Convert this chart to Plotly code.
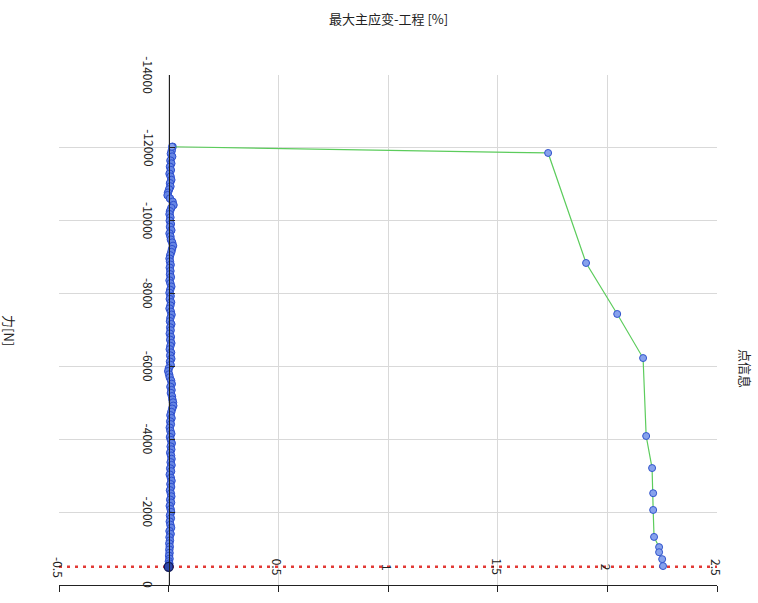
import plotly.graph_objects as go

# ---------------- data ----------------
X_TICKS = [-0.5, 0, 0.5, 1, 1.5, 2, 2.5]
X_TICK_LABELS = ["-0.5", "", "0.5", "1", "1.5", "2", "2.5"]
Y_TICKS = [-14000, -12000, -10000, -8000, -6000, -4000, -2000, 0]
Y_TICK_LABELS = ["-14000", "-12000", "-10000", "-8000", "-6000", "-4000", "-2000", "0"]

THRESHOLD_FORCE = -500

column_force = [
    -12030, -11930, -11840, -11760, -11650, -11570, -11480, -11390, -11290, -11210,
    -11120, -11030, -10940, -10860, -10770, -10700, -10610, -10520, -10430, -10350,
    -10260, -10180, -10090, -10000, -9910, -9830, -9740, -9650, -9570, -9480,
    -9400, -9310, -9220, -9140, -9050, -8960, -8880, -8790, -8710, -8620,
    -8530, -8450, -8360, -8280, -8190, -8100, -8020, -7930, -7850, -7760,
    -7670, -7590, -7500, -7420, -7330, -7240, -7160, -7070, -6990, -6900,
    -6810, -6730, -6640, -6560, -6470, -6380, -6300, -6210, -6130, -6040,
    -5950, -5870, -5780, -5700, -5610, -5520, -5440, -5350, -5270, -5180,
    -5090, -5010, -4920, -4840, -4750, -4660, -4580, -4490, -4410, -4320,
    -4230, -4150, -4060, -3980, -3890, -3800, -3720, -3630, -3550, -3460,
    -3370, -3290, -3200, -3120, -3030, -2940, -2860, -2770, -2690, -2600,
    -2510, -2430, -2340, -2260, -2170, -2080, -2000, -1910, -1830, -1740,
    -1650, -1570, -1480, -1400, -1310, -1220, -1140, -1050, -970, -880,
    -800, -720, -650, -590, -540,
]
column_strain = [
    0.018, 0.014, 0.010, 0.016, 0.008, 0.012, 0.006, 0.010, 0.004, 0.009,
    0.012, 0.006, 0.008, 0.002, -0.003, -0.005, 0.006, 0.018, 0.022, 0.012,
    0.006, 0.004, 0.008, 0.005, 0.010, 0.006, 0.012, 0.004, 0.008, 0.010,
    0.016, 0.020, 0.015, 0.012, 0.007, 0.004, 0.006, 0.009, 0.005, 0.008,
    0.006, 0.010, 0.004, 0.008, 0.012, 0.007, 0.004, 0.009, 0.005, 0.011,
    0.008, 0.004, 0.010, 0.013, 0.008, 0.006, 0.012, 0.007, 0.009, 0.005,
    0.010, 0.007, 0.012, 0.008, 0.005, 0.011, 0.007, 0.012, 0.006, 0.009,
    0.001, -0.002, 0.002, 0.005, 0.011, 0.014, 0.008, 0.013, 0.010, 0.015,
    0.017, 0.020, 0.021, 0.016, 0.012, 0.008, 0.013, 0.007, 0.010, 0.005,
    0.008, 0.012, 0.006, 0.010, 0.014, 0.009, 0.012, 0.007, 0.011, 0.013,
    0.009, 0.013, 0.007, 0.011, 0.005, 0.010, 0.013, 0.008, 0.011, 0.006,
    0.010, 0.012, 0.007, 0.011, 0.005, 0.009, 0.011, 0.006, 0.010, 0.005,
    0.008, 0.011, 0.004, 0.009, 0.004, 0.006, 0.003, 0.005, 0.003, 0.004,
    0.002, 0.004, 0.001, 0.003, 0.002,
]

selected_strain = [0.0]
selected_force = [-500]

point_strain = [0.015, 1.73, 1.903, 2.045, 2.163, 2.177, 2.204, 2.209, 2.209,
                2.213, 2.236, 2.236, 2.25, 2.254]
point_force = [-12030, -11860, -8840, -7440, -6230, -4090, -3210, -2520, -2060,
               -1320, -1040, -900, -710, -520]

TITLE = "最大主应变-工程 [%]"
Y_TITLE = "力[N]"
RIGHT_TITLE = "点信息"

# ---------------- figure ----------------
FONT = "Noto Sans CJK SC"
TEXT_COLOR = "#222222"
x_range = [X_TICKS[0], X_TICKS[-1]]
y_range = [Y_TICKS[-1], Y_TICKS[0]]

fig = go.Figure()

fig.add_trace(go.Scatter(
    x=x_range, y=[THRESHOLD_FORCE, THRESHOLD_FORCE], mode="lines",
    line=dict(color="#e23a36", width=2.5, dash="3px,5px"),
    hoverinfo="skip"))

fig.add_trace(go.Scatter(
    x=column_strain, y=column_force, mode="markers",
    marker=dict(size=7.5, color="rgb(102,134,228)",
                line=dict(color="rgb(45,78,205)", width=1)),
    hoverinfo="skip"))

fig.add_trace(go.Scatter(
    x=point_strain, y=point_force, mode="lines+markers",
    line=dict(color="#5ccc5c", width=1.2),
    marker=dict(size=7, color="rgb(135,162,236)",
                line=dict(color="rgb(50,85,205)", width=1)),
    hoverinfo="skip"))

fig.add_trace(go.Scatter(
    x=selected_strain, y=selected_force, mode="markers",
    marker=dict(size=9, color="rgb(45,70,170)",
                line=dict(color="rgb(15,25,90)", width=1.3)),
    hoverinfo="skip"))

annotations = []
for v, t in zip(X_TICKS, X_TICK_LABELS):
    if not t:
        continue
    annotations.append(dict(
        x=v, y=0, xref="x", yref="y", text=t, showarrow=False,
        textangle=90, yshift=18, xanchor="center", yanchor="middle",
        font=dict(family=FONT, size=12, color=TEXT_COLOR)))
for v, t in zip(Y_TICKS, Y_TICK_LABELS):
    annotations.append(dict(
        x=0, y=v, xref="x", yref="y", text=t, showarrow=False,
        textangle=90, xshift=-20, xanchor="center", yanchor="middle",
        font=dict(family=FONT, size=12, color=TEXT_COLOR)))

annotations.append(dict(
    x=0.5, y=1, xref="paper", yref="paper", text=TITLE, showarrow=False,
    yshift=57, xanchor="center", yanchor="middle",
    font=dict(family=FONT, size=13, color=TEXT_COLOR)))
annotations.append(dict(
    x=0, y=0.5, xref="paper", yref="paper", text=Y_TITLE, showarrow=False,
    textangle=90, xshift=-49, xanchor="center", yanchor="middle",
    font=dict(family=FONT, size=13, color=TEXT_COLOR)))
annotations.append(dict(
    x=1, y=0.4255, xref="paper", yref="paper", text=RIGHT_TITLE, showarrow=False,
    textangle=90, xshift=28, xanchor="center", yanchor="middle",
    font=dict(family=FONT, size=13, color=TEXT_COLOR)))

y_axis_pos = (0 - x_range[0]) / (x_range[1] - x_range[0])

fig.update_layout(
    width=758, height=603,
    margin=dict(l=59, r=41, t=75, b=18),
    paper_bgcolor="white", plot_bgcolor="white",
    showlegend=False, hovermode=False,
    annotations=annotations,
    xaxis=dict(
        range=x_range, tickvals=X_TICKS, showticklabels=False,
        showgrid=True, gridcolor="#d9d9d9", gridwidth=1,
        zeroline=False, showline=True, linecolor="#222222", linewidth=1,
        ticks="outside", ticklen=6, tickcolor="#222222"),
    yaxis=dict(
        range=y_range, tickvals=Y_TICKS, showticklabels=False,
        showgrid=True, gridcolor="#d9d9d9", gridwidth=1,
        zeroline=False, showline=True, linecolor="#222222", linewidth=1,
        ticks="inside", ticklen=5, tickcolor="#222222",
        anchor="free", position=y_axis_pos),
)

fig.write_html("out.html",
               config={"displayModeBar": False, "staticPlot": True},
               post_script="document.body.style.margin='0';document.body.style.overflow='hidden';")
